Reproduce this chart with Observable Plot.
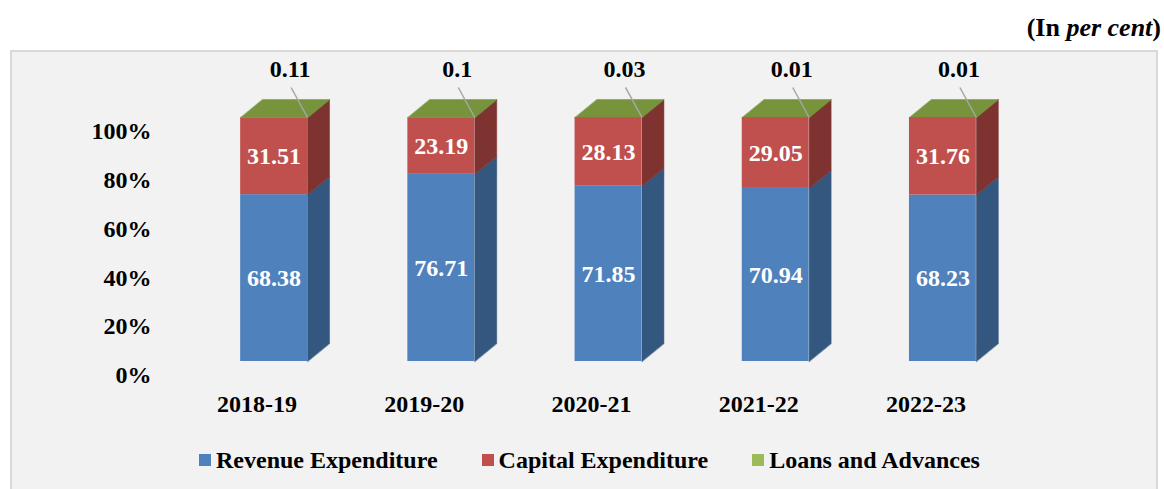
<!DOCTYPE html>
<html>
<head>
<meta charset="utf-8">
<script src="https://cdn.jsdelivr.net/npm/d3@7"></script>
<script src="https://cdn.jsdelivr.net/npm/@observablehq/plot@0.6"></script>
<style>
  body { margin: 0; background: #ffffff; }
  #wrap { position: relative; width: 1164px; height: 489px; overflow: hidden;
          font-family: "Liberation Serif", "Times New Roman", serif; font-weight: bold; color: #000; }
  #panel { position: absolute; left: 10px; top: 50px; width: 1148px; height: 445px;
           background: #f2f2f2; border: 2px solid #d9d9d9; box-sizing: border-box; }
  #unit { position: absolute; right: 3px; top: 15px; font-size: 26px; line-height: 1; }
  #chart { position: absolute; left: 0; top: 0; }
  #legend { position: absolute; left: 199px; top: 447px; display: flex; gap: 44px; font-size: 24px; line-height: 26px; }
  .item { display: flex; align-items: center; }
  .sw { width: 12px; height: 12px; margin-right: 5px; display: inline-block; }
</style>
</head>
<body>
<div id="wrap">
  <div id="panel"></div>
  <div id="unit">(In <i>per cent</i>)</div>
  <div id="chart"></div>
  <div id="legend"></div>
</div>
<script>
// ---- data ----
const years = ["2018-19", "2019-20", "2020-21", "2021-22", "2022-23"];
const revenue = [68.38, 76.71, 71.85, 70.94, 68.23];
const capital = [31.51, 23.19, 28.13, 29.05, 31.76];
const loans = [0.11, 0.1, 0.03, 0.01, 0.01];
const yTicks = [0, 20, 40, 60, 80, 100];
const seriesNames = ["Revenue Expenditure", "Capital Expenditure", "Loans and Advances"];

// ---- styling ----
const frontColors = ["#4f81bd", "#c0504d", "#9bbb59"];
const sideColors = ["#34577f", "#7e3331", "#5f762c"];
const topColor = "#77933c";

const W = 1164, H = 430;
const mTop = 117, mBottom = 69, mLeft = 190, mRight = 138;
const half = 0.2; // half bar width in category units
const ppuX = (W - mLeft - mRight) / 5;
const ppuY = (H - mTop - mBottom) / 100;
const dX = 22 / ppuX, dY = 18 / ppuY; // 3D depth offsets in data units

// ---- derived tables ----
const values = [revenue, capital, loans];
const segments = [];
const polys = [];
const tops = [];
years.forEach((yr, i) => {
  let base = 0;
  values.forEach((arr, s) => {
    const y1 = base, y2 = base + arr[i];
    base = y2;
    segments.push({i, s, y1, y2, v: arr[i], color: frontColors[s]});
    const id = `side-${i}-${s}`;
    const xr = i + half;
    [[xr, y1], [xr, y2], [xr + dX, y2 + dY], [xr + dX, y1 + dY]].forEach(([x, y]) =>
      polys.push({id, x, y, color: sideColors[s]}));
  });
  const id = `top-${i}`;
  [[i - half, base], [i + half, base], [i + half + dX, base + dY], [i - half + dX, base + dY]].forEach(([x, y]) =>
    polys.push({id, x, y, color: topColor}));
  tops.push({i, top: base, v: loans[i]});
});
const inner = segments.filter(d => d.s < 2);

const chart = Plot.plot({
  width: W, height: H,
  marginTop: mTop, marginBottom: mBottom, marginLeft: mLeft, marginRight: mRight,
  style: {background: "transparent", fontFamily: "'Liberation Serif', 'Times New Roman', serif",
          fontSize: "24px", fontWeight: "bold", overflow: "visible", color: "#000"},
  x: {type: "linear", domain: [-0.5, 4.5], axis: null},
  y: {domain: [0, 100]},
  color: {type: "identity"},
  marks: [
    Plot.axisY({ticks: yTicks, tickFormat: d => d + "%", tickSize: 0, tickPadding: 39, dy: 14, label: null, fill: "#000"}),
    Plot.line(polys, {x: "x", y: "y", z: "id", fill: "color", stroke: "color", strokeWidth: 0.5, curve: "linear-closed"}),
    Plot.rect(segments, {x1: d => d.i - half, x2: d => d.i + half, y1: "y1", y2: "y2", fill: "color"}),
    Plot.text(inner, {x: "i", y: d => (d.y1 + d.y2) / 2, text: d => String(d.v), fill: "white"}),
    Plot.link(tops, {x1: d => d.i + half, y1: "top", x2: d => d.i + 17 / ppuX, y2: d => d.top + 30 / ppuY,
                     stroke: "#a6a6a6", strokeWidth: 1.5}),
    Plot.text(tops, {x: "i", y: "top", dx: 16, dy: -48, text: d => String(d.v), fill: "#000"}),
    Plot.text(years, {x: (d, i) => i, y: () => 0, dx: -17, dy: 43, text: d => d, fill: "#000"})
  ]
});
document.getElementById("chart").appendChild(chart);

// ---- legend ----
const legend = document.getElementById("legend");
seriesNames.forEach((name, s) => {
  const item = document.createElement("div");
  item.className = "item";
  const sw = document.createElement("span");
  sw.className = "sw";
  sw.style.background = frontColors[s];
  const t = document.createElement("span");
  t.textContent = name;
  item.appendChild(sw);
  item.appendChild(t);
  legend.appendChild(item);
});
</script>
</body>
</html>
